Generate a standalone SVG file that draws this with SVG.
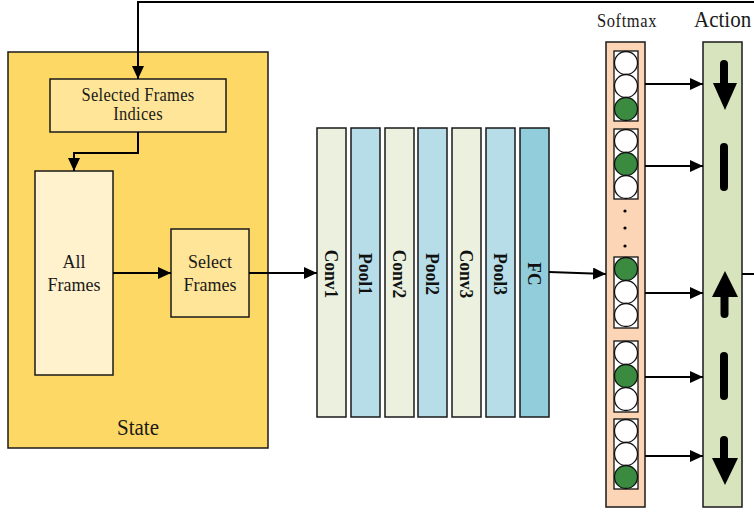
<svg xmlns="http://www.w3.org/2000/svg" width="754" height="512" viewBox="0 0 754 512">
  <style>
    .box { stroke: #1a1a1a; stroke-width: 1.5; }
    .wire { fill: none; stroke: #000; stroke-width: 2; }
    .lbl { font-family: "Liberation Serif", "Times New Roman", serif; fill: #1a1a1a; text-anchor: middle; }
    .layer { font-family: "Liberation Serif", "Times New Roman", serif; font-weight: bold; font-size: 17.5px; fill: #111; text-anchor: middle; dominant-baseline: central; }
    .cell { fill: #fff; stroke: #111; stroke-width: 1.3; }
    .on { fill: #3a8a40; }
    .icon { stroke: #000; stroke-width: 8; stroke-linecap: round; fill: none; }
  </style>
  <defs>
    <marker id="arrow" markerUnits="userSpaceOnUse" markerWidth="13" markerHeight="12" refX="13" refY="6" orient="auto">
      <path d="M0,0 L13,6 L0,12 z" fill="#000"/>
    </marker>
  </defs>

  <!-- State container -->
  <g id="state">
    <rect class="box" x="8" y="52" width="260" height="396" fill="#fed864"/>
    <text class="lbl" transform="translate(138,435) scale(1,1.1)" font-size="21">State</text>
  </g>

  <g id="selected-indices">
    <rect class="box" x="50" y="79" width="176" height="53" fill="#ffe597"/>
    <text class="lbl" transform="translate(138,101) scale(1,1.1)" font-size="16.5" letter-spacing="0.3">Selected Frames</text>
    <text class="lbl" transform="translate(138,120) scale(1,1.1)" font-size="16.5" letter-spacing="0.3">Indices</text>
  </g>

  <g id="all-frames">
    <rect class="box" x="35" y="171" width="78" height="204" fill="#fff2cc"/>
    <text class="lbl" transform="translate(74,268) scale(1,1.1)" font-size="18">All</text>
    <text class="lbl" transform="translate(74,291) scale(1,1.1)" font-size="18">Frames</text>
  </g>

  <g id="select-frames">
    <rect class="box" x="171" y="229" width="78" height="88" fill="#ffe597"/>
    <text class="lbl" transform="translate(210,268) scale(1,1.1)" font-size="18">Select</text>
    <text class="lbl" transform="translate(210,291) scale(1,1.1)" font-size="18">Frames</text>
  </g>

  <!-- CNN layers -->
  <g id="conv1">
    <rect class="box" x="317" y="128" width="29" height="289" fill="#ebf1de"/>
    <text class="layer" transform="translate(331.5,274) rotate(90) scale(1,1.12)">Conv1</text>
  </g>
  <g id="pool1">
    <rect class="box" x="351" y="128" width="29" height="289" fill="#b7dee8"/>
    <text class="layer" transform="translate(365.5,274) rotate(90) scale(1,1.12)">Pool1</text>
  </g>
  <g id="conv2">
    <rect class="box" x="385" y="128" width="29" height="289" fill="#ebf1de"/>
    <text class="layer" transform="translate(399.5,274) rotate(90) scale(1,1.12)">Conv2</text>
  </g>
  <g id="pool2">
    <rect class="box" x="418" y="128" width="29" height="289" fill="#b7dee8"/>
    <text class="layer" transform="translate(432.5,274) rotate(90) scale(1,1.12)">Pool2</text>
  </g>
  <g id="conv3">
    <rect class="box" x="452" y="128" width="29" height="289" fill="#ebf1de"/>
    <text class="layer" transform="translate(466.5,274) rotate(90) scale(1,1.12)">Conv3</text>
  </g>
  <g id="pool3">
    <rect class="box" x="486" y="128" width="29" height="289" fill="#b7dee8"/>
    <text class="layer" transform="translate(500.5,274) rotate(90) scale(1,1.12)">Pool3</text>
  </g>
  <g id="fc">
    <rect class="box" x="520" y="128" width="29" height="289" fill="#92cddc"/>
    <text class="layer" transform="translate(534.5,274) rotate(90) scale(1,1.12)">FC</text>
  </g>

  <!-- Softmax outputs -->
  <g id="softmax">
    <text class="lbl" transform="translate(627,27) scale(1,1.1)" font-size="16.5" letter-spacing="0.6">Softmax</text>
    <rect class="box" x="606" y="42" width="39" height="465" fill="#fcd5b7"/>
    <g>
      <rect class="cell" x="614" y="51" width="24" height="70"/>
      <circle class="cell" cx="626" cy="63" r="11.5"/>
      <circle class="cell" cx="626" cy="86" r="11.5"/>
      <circle class="cell on" cx="626" cy="109" r="11.5"/>
    </g>
    <g>
      <rect class="cell" x="614" y="129" width="24" height="70"/>
      <circle class="cell" cx="626" cy="141" r="11.5"/>
      <circle class="cell on" cx="626" cy="164" r="11.5"/>
      <circle class="cell" cx="626" cy="187" r="11.5"/>
    </g>
    <circle cx="625" cy="211" r="1.6" fill="#000"/>
    <circle cx="625" cy="228" r="1.6" fill="#000"/>
    <circle cx="625" cy="246" r="1.6" fill="#000"/>
    <g>
      <rect class="cell" x="614" y="257" width="24" height="71"/>
      <circle class="cell on" cx="626" cy="269" r="11.5"/>
      <circle class="cell" cx="626" cy="292" r="11.5"/>
      <circle class="cell" cx="626" cy="315" r="11.5"/>
    </g>
    <g>
      <rect class="cell" x="614" y="341" width="24" height="71"/>
      <circle class="cell" cx="626" cy="353" r="11.5"/>
      <circle class="cell on" cx="626" cy="376" r="11.5"/>
      <circle class="cell" cx="626" cy="399" r="11.5"/>
    </g>
    <g>
      <rect class="cell" x="614" y="419" width="24" height="70"/>
      <circle class="cell" cx="626" cy="431" r="11.5"/>
      <circle class="cell" cx="626" cy="454" r="11.5"/>
      <circle class="cell on" cx="626" cy="477" r="11.5"/>
    </g>
  </g>

  <!-- Action column -->
  <g id="action">
    <text class="lbl" transform="translate(694,27) scale(1,1.1)" font-size="21" style="text-anchor:start">Action</text>
    <rect class="box" x="703" y="42" width="39" height="465" fill="#d7e4bd"/>
    <!-- down -->
    <line class="icon" x1="724" y1="64" x2="724" y2="86"/>
    <path d="M713,83 L737,83 L725,110 z" fill="#000"/>
    <!-- hold -->
    <line class="icon" x1="724" y1="147" x2="724" y2="187"/>
    <!-- up -->
    <path d="M712,297 L738,297 L725,271 z" fill="#000"/>
    <line class="icon" x1="724.5" y1="294" x2="724.5" y2="314"/>
    <!-- hold -->
    <line class="icon" x1="724" y1="356" x2="724" y2="396"/>
    <!-- down -->
    <line class="icon" x1="724" y1="440" x2="724" y2="462"/>
    <path d="M712,458 L738,458 L725,485 z" fill="#000"/>
  </g>

  <!-- Connectors -->
  <g id="connectors">
    <path class="wire" d="M742,274 H762 V2 H138 V79" marker-end="url(#arrow)"/>
    <path class="wire" d="M138,132 V153 H74 V171" marker-end="url(#arrow)"/>
    <path class="wire" d="M113,273 H171" marker-end="url(#arrow)"/>
    <path class="wire" d="M249,273 H317" marker-end="url(#arrow)"/>
    <path class="wire" d="M549,272 L606,274" marker-end="url(#arrow)"/>
    <path class="wire" d="M645,84 H703" marker-end="url(#arrow)"/>
    <path class="wire" d="M645,166 H703" marker-end="url(#arrow)"/>
    <path class="wire" d="M645,293 H703" marker-end="url(#arrow)"/>
    <path class="wire" d="M645,377 H703" marker-end="url(#arrow)"/>
    <path class="wire" d="M645,456 H703" marker-end="url(#arrow)"/>
  </g>
</svg>
